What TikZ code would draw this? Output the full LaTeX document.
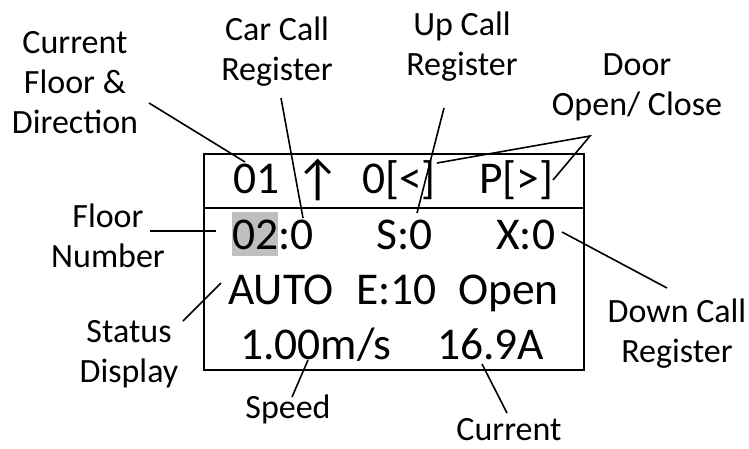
\documentclass[tikz,border=0pt]{standalone}
\usepackage{fontspec}
\setmainfont{Carlito}
\definecolor{hlgray}{RGB}{191,191,191}
\tikzset{
  lbl/.style={align=center,anchor=base,inner sep=0pt,font=\fontsize{34}{40}\selectfont},
  val/.style={anchor=base west,inner sep=0pt,font=\fontsize{45.5}{53}\selectfont},
  conn/.style={line width=1.6pt},
  frame/.style={line width=2.4pt}
}
\begin{document}
\begin{tikzpicture}[x=1pt,y=-1pt]
  \useasboundingbox (0,0) rectangle (749,448);
  % display frame
  \draw[frame] (204,154) rectangle (584,370);
  \draw[frame] (204,208) -- (584,208);
  % display rows
  \node[val] (flr) at (233,193) {01};
  \node[val,font=\fontsize{50}{53}\selectfont] (dir) at (295,195) {↑};
  \node[val] (dopen) at (362,193) {0[<]};
  \node[val] (dclose) at (479,193) {P[>]};
  \node[val,fill=hlgray,text height=37pt,text depth=7pt] (fno) at (232,249) {02};
  \node[val] (ccall) at (fno.base east) {:0};
  \node[val] (ucall) at (376,249) {S:0};
  \node[val] (dcall) at (496,249) {X:0};
  \node[val] (mode) at (228,304) {AUTO};
  \node[val] (err) at (356,304) {E:10};
  \node[val] (door) at (458,304) {Open};
  \node[val] (spd) at (240,359) {1.00m/s};
  \node[val] (amp) at (437,359) {16.9A};
  % labels (anchored on the last line)
  \node[lbl] (cfd-l) at (75,133) {Current\\Floor \&\\Direction};
  \node[lbl] (ccr-l) at (277,80) {Car Call\\Register};
  \node[lbl] (ucr-l) at (462,75) {Up Call\\Register};
  \node[lbl] (door-l) at (637,115) {Door\\Open/ Close};
  \node[lbl] (fln-l) at (108,267) {Floor\\Number};
  \node[lbl] (sts-l) at (129,382) {Status\\Display};
  \node[lbl] (spd-l) at (288,418) {Speed};
  \node[lbl] (dcr-l) at (677,362) {Down Call\\Register};
  \node[lbl] (cur-l) at (509,440) {Current};
  % leader ends
  \coordinate (cfd-a) at (149,103); \coordinate (cfd-b) at (245,162);
  \coordinate (ccr-a) at (281,98);  \coordinate (ccr-b) at (303,218);
  \coordinate (ucr-a) at (444,108); \coordinate (ucr-b) at (417,213);
  \coordinate (door-a) at (590,136); \coordinate (door-b) at (437,163); \coordinate (door-c) at (553,180);
  \coordinate (fln-a) at (150,231); \coordinate (fln-b) at (216,231);
  \coordinate (sts-a) at (183,321); \coordinate (sts-b) at (221,283);
  \coordinate (spd-a) at (292,397); \coordinate (spd-b) at (308,360);
  \coordinate (dcr-a) at (667,288); \coordinate (dcr-b) at (562,232);
  \coordinate (cur-a) at (507,413); \coordinate (cur-b) at (482,364);
  % leaders
  \draw[conn] (cfd-a) -- (cfd-b);
  \draw[conn] (ccr-a) -- (ccr-b);
  \draw[conn] (ucr-a) -- (ucr-b);
  \draw[conn] (door-b) -- (door-a) -- (door-c);
  \draw[conn] (fln-a) -- (fln-b);
  \draw[conn] (sts-a) -- (sts-b);
  \draw[conn] (spd-a) -- (spd-b);
  \draw[conn] (dcr-a) -- (dcr-b);
  \draw[conn] (cur-a) -- (cur-b);
\end{tikzpicture}
\end{document}
